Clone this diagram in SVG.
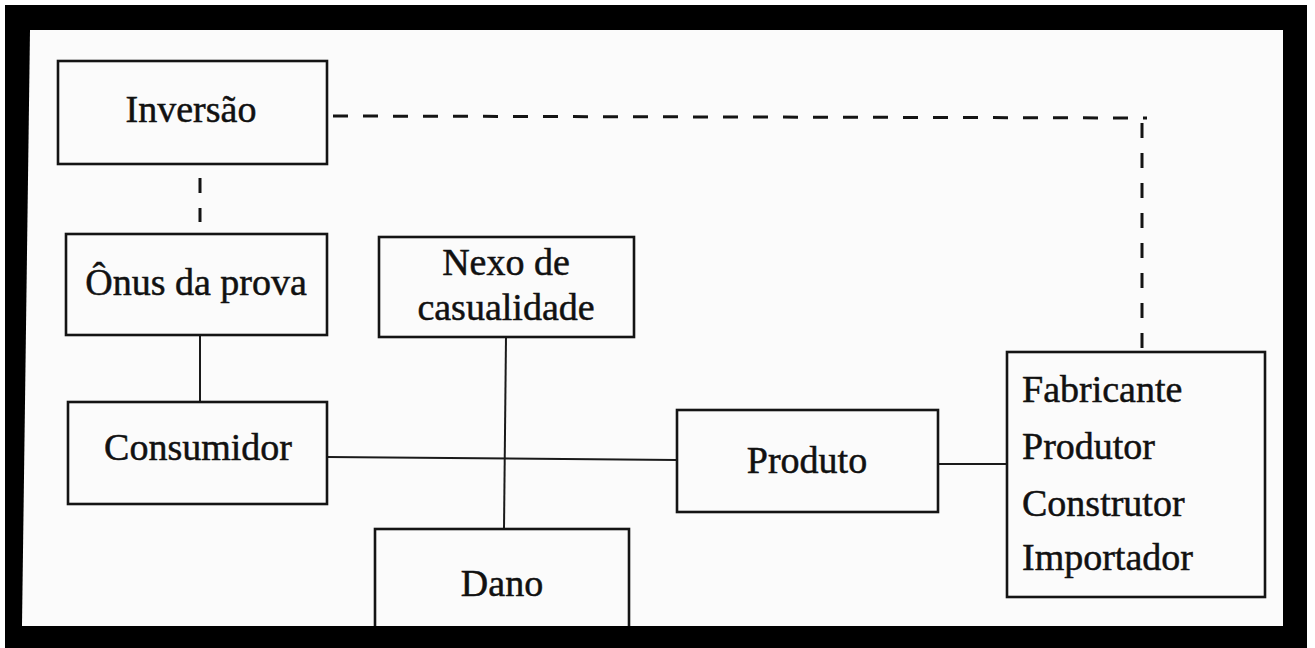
<svg xmlns="http://www.w3.org/2000/svg" width="1315" height="648" viewBox="0 0 1315 648">
<style>
.box{fill:none;stroke:#141414;stroke-width:2.6}
.ln{fill:none;stroke:#1a1a1a;stroke-width:2}
.dash{fill:none;stroke:#141414;stroke-width:3;stroke-dasharray:15 15}
text{font-family:"Liberation Serif","Times New Roman",serif;font-size:38px;fill:#111;stroke:#111;stroke-width:0.5}
.c{text-anchor:middle}
</style>
<rect x="0" y="0" width="1315" height="648" fill="#ffffff"/>
<rect x="5" y="5" width="1302" height="643" fill="#000000"/>
<polygon points="30,30 1283,30 1283,626 22,626" fill="#fbfbfb"/>
<g id="connectors">
<path class="dash" d="M200,178 L200,222"/>
<path class="dash" d="M333,116 L1147,118"/>
<path class="dash" d="M1142,123 L1142,350"/>
<path class="ln" d="M200,335 L200,402"/>
<path class="ln" d="M327,457 L677,460"/>
<path class="ln" d="M506,337 L504,529"/>
<path class="ln" d="M938,464 L1007,464"/>
</g>
<g id="inversao">
<rect class="box" x="58" y="61" width="269" height="103"/>
<text class="c" x="191" y="122">Inversão</text>
</g>
<g id="onus">
<rect class="box" x="66" y="234" width="261" height="101"/>
<text class="c" x="196" y="295">Ônus da prova</text>
</g>
<g id="nexo">
<rect class="box" x="379" y="237" width="255" height="100"/>
<text class="c" x="506" y="275">Nexo de</text>
<text class="c" x="506" y="320">casualidade</text>
</g>
<g id="consumidor">
<rect class="box" x="68" y="402" width="259" height="102"/>
<text class="c" x="198" y="460">Consumidor</text>
</g>
<g id="produto">
<rect class="box" x="677" y="410" width="261" height="102"/>
<text class="c" x="807" y="473">Produto</text>
</g>
<g id="dano">
<rect class="box" x="375" y="529" width="254" height="110"/>
<text class="c" x="502" y="596">Dano</text>
</g>
<g id="fabricante">
<rect class="box" x="1007" y="352" width="258" height="245"/>
<text x="1022" y="402">Fabricante</text>
<text x="1022" y="459">Produtor</text>
<text x="1022" y="516">Construtor</text>
<text x="1022" y="570">Importador</text>
</g>
<rect x="22" y="626" width="1262" height="22" fill="#000000"/>
</svg>
